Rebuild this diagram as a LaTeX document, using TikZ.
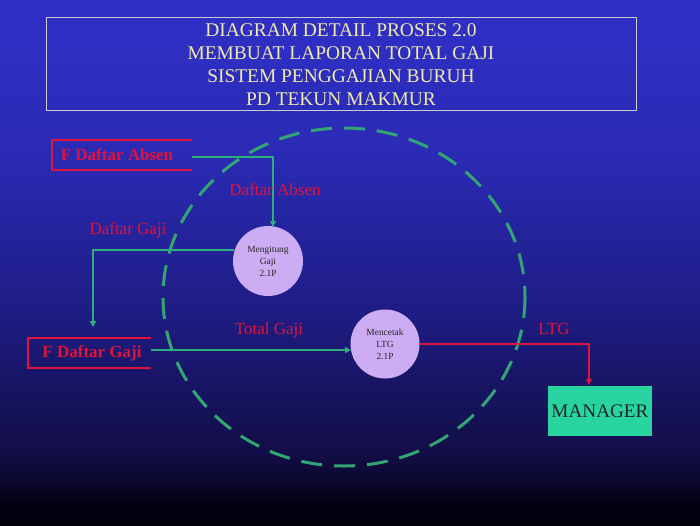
\documentclass[tikz,border=0pt]{standalone}
\usepackage{fontspec}
\setmainfont{Liberation Serif}
\usetikzlibrary{arrows.meta}
\definecolor{bgT}{RGB}{48,48,200}
\definecolor{bgT2}{RGB}{42,42,180}
\definecolor{bgM}{RGB}{30,28,130}
\definecolor{bgB}{RGB}{18,14,72}
\definecolor{bgC}{RGB}{12,8,48}
\definecolor{bgD}{RGB}{4,0,20}
\definecolor{bgE}{RGB}{2,0,12}
\pgfdeclareverticalshading{bgshade}{100bp}{
  color(0bp)=(bgE); color(25bp)=(bgE); color(27.4bp)=(bgD); color(29.3bp)=(bgC);
  color(32.1bp)=(bgB); color(45bp)=(bgM); color(60bp)=(bgT2); color(75bp)=(bgT); color(100bp)=(bgT)}
\definecolor{titletext}{RGB}{240,234,172}
\definecolor{redc}{RGB}{222,20,60}
\definecolor{greenc}{RGB}{45,175,125}
\definecolor{dashc}{RGB}{50,165,115}
\definecolor{lav}{RGB}{204,172,242}
\definecolor{mgr}{RGB}{40,212,160}
\tikzset{
  flow/.style={greenc, line width=1.6pt, -{Triangle[length=6pt,width=6pt]}},
  redflow/.style={redc, line width=1.8pt, -{Triangle[length=6pt,width=6pt]}},
  lbl/.style={text=redc, font=\fontsize{17}{20}\selectfont, inner sep=0pt},
  storetxt/.style={text=redc, font=\fontsize{17}{20}\selectfont\bfseries, inner sep=0pt},
  storeline/.style={redc, line width=2pt},
  proc/.style={circle, fill=lav, draw=none, align=center, text=black!85, font=\fontsize{9.4}{12}\selectfont, inner sep=0pt},
}
\begin{document}
\begin{tikzpicture}[x=1pt,y=-1pt]
\useasboundingbox (0,0) rectangle (700,525);
\shade[shading=bgshade] (0,0) rectangle (700,525);
% title
\draw[black!20, line width=0.8pt] (46,17) rectangle (636,110);
\node[text=titletext, align=center, font=\fontsize{19.4}{23}\selectfont, inner sep=0pt] (title) at (341,65)
  {DIAGRAM DETAIL PROSES 2.0\\MEMBUAT LAPORAN TOTAL GAJI\\SISTEM PENGGAJIAN BURUH\\PD TEKUN MAKMUR};
% dashed boundary
\draw[dashc, line width=3pt, dash pattern=on 21pt off 12pt] (344,297) ellipse [x radius=181, y radius=169];
% data stores
\draw[storeline] (192,140) -- (52,140) -- (52,170) -- (192,170);
\node[storetxt] (fabsen) at (117,155) {F Daftar Absen};
\coordinate (fa) at (192,157);
\draw[storeline] (151,338) -- (28,338) -- (28,368) -- (151,368);
\node[storetxt] (fgaji) at (92,353) {F Daftar Gaji};
\coordinate (fg) at (151,350);
% processes
\node[proc, minimum size=70pt] (p1) at (268,261) {Mengitung\\Gaji\\2.1P};
\node[proc, minimum size=69pt] (p2) at (385,344) {Mencetak\\LTG\\2.1P};
% manager
\node[fill=mgr, minimum width=104pt, minimum height=50pt, inner sep=0pt, text=black!85, font=\fontsize{19.2}{22}\selectfont] (mgr) at (600,411) {MANAGER};
% flows
\coordinate (p1n) at (273,227);
\draw[flow] (fa) -| (p1n);
\node[lbl] (l1) at (275,190) {Daftar Absen};
\coordinate (fgtop) at (93,327);
\coordinate (p1w) at (234,250);
\draw[flow] (p1w) -- (93,250) -- (fgtop);
\node[lbl] (l2) at (128,230) {Daftar Gaji};
\coordinate (p2w) at (351,350);
\draw[flow] (fg) -- (p2w);
\node[lbl] (l3) at (269,330) {Total Gaji};
\coordinate (mgrtop) at (589,385);
\draw[redflow] (p2.east) -| (mgrtop);
\node[lbl] (l4) at (554,329) {LTG};
\end{tikzpicture}
\end{document}
